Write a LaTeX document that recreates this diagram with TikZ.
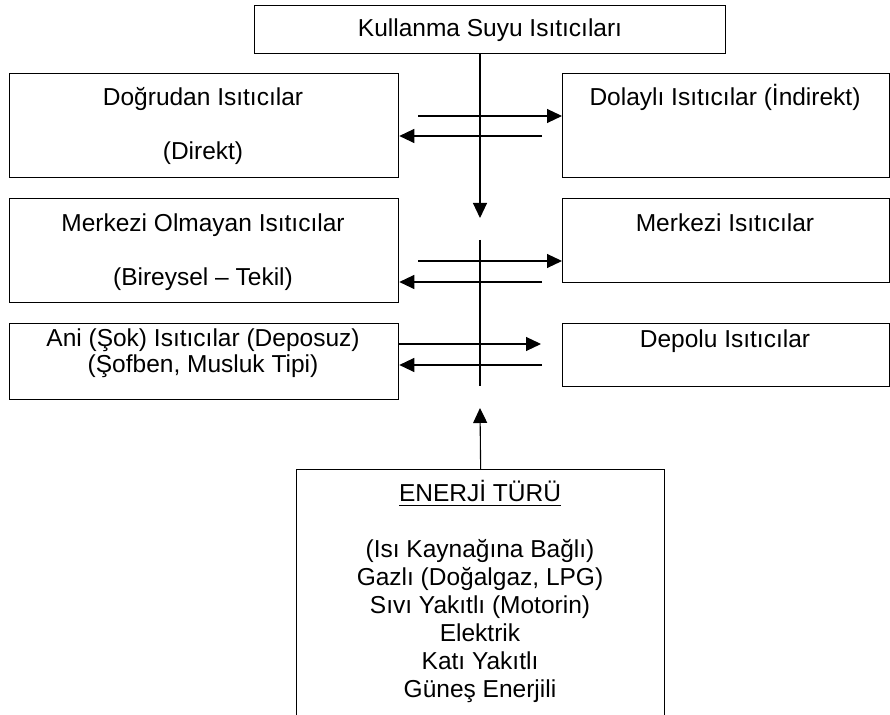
\documentclass[tikz,border=0pt]{standalone}
\usepackage{fontspec}
\setmainfont{Liberation Sans}
\usetikzlibrary{arrows.meta}

\begin{document}
\begin{tikzpicture}[x=0.5pt,y=-0.5pt,
  kutu/.style={draw,line width=0.65pt,anchor=north west,inner sep=0pt},
  yazi/.style={anchor=base,inner sep=0pt,font=\fontsize{12.25}{14}\selectfont},
  ok/.style={line width=0.55pt,-{Triangle[length=7.5pt,width=7pt]}}]
\useasboundingbox (0,0) rectangle (890,715);
\clip (0,0) rectangle (890,715);

% Boxes
\node[kutu,minimum width=235.5pt,minimum height=24pt] (kullanma) at (254,5) {};
\node[kutu,minimum width=194.5pt,minimum height=52pt] (dogrudan) at (9,73) {};
\node[kutu,minimum width=163.5pt,minimum height=52pt] (dolayli) at (562,73) {};
\node[kutu,minimum width=194.5pt,minimum height=52pt] (bireysel) at (9,198) {};
\node[kutu,minimum width=163.5pt,minimum height=42pt] (merkezi) at (562,198) {};
\node[kutu,minimum width=194.5pt,minimum height=38pt] (ani) at (9,323) {};
\node[kutu,minimum width=163.5pt,minimum height=31.5pt] (depolu) at (562,323) {};
\node[kutu,minimum width=184pt,minimum height=130pt] (enerji) at (296,469) {};

% Texts
\node[yazi] (t-kullanma) at (490,37) {Kullanma Suyu Isıtıcıları};
\node[yazi] (t-dogrudan) at (203,106) {Doğrudan Isıtıcılar};
\node[yazi] (t-direkt) at (203,160) {(Direkt)};
\node[yazi] (t-dolayli) at (725,106) {Dolaylı Isıtıcılar (İndirekt)};
\node[yazi] (t-merkezsiz) at (203,232) {Merkezi Olmayan Isıtıcılar};
\node[yazi] (t-bireysel) at (203,286) {(Bireysel – Tekil)};
\node[yazi] (t-merkezi) at (725,232) {Merkezi Isıtıcılar};
\node[yazi] (t-ani) at (203,347) {Ani (Şok) Isıtıcılar (Deposuz)};
\node[yazi] (t-sofben) at (203,373) {(Şofben, Musluk Tipi)};
\node[yazi] (t-depolu) at (725,348) {Depolu Isıtıcılar};
\node[yazi] (t-enerji) at (480,502) {\underline{ENERJİ TÜRÜ}};
\node[yazi] (t-kaynak) at (480,558) {(Isı Kaynağına Bağlı)};
\node[yazi] (t-gazli) at (480,586) {Gazlı (Doğalgaz, LPG)};
\node[yazi] (t-sivi) at (480,614) {Sıvı Yakıtlı (Motorin)};
\node[yazi] (t-elektrik) at (480,642) {Elektrik};
\node[yazi] (t-kati) at (480,670) {Katı Yakıtlı};
\node[yazi] (t-gunes) at (480,698) {Güneş Enerjili};

% Free ends
\coordinate (asagi) at (480,218);
\coordinate (dik1) at (480,240);
\coordinate (dik2) at (480,386);
\coordinate (yukari) at (480,408);
\coordinate (s1) at (418,116);
\coordinate (s2) at (542,136);
\coordinate (s3) at (418,261);
\coordinate (s4) at (542,282);
\coordinate (s5) at (541,344);
\coordinate (s6) at (542,365);

% Connectors
\draw[ok] (kullanma.south -| asagi) -- (asagi);
\draw[line width=0.55pt] (dik1) -- (dik2);
\draw[ok] (enerji.north) -- (yukari);
\draw[ok] (s1) -- (dolayli.west |- s1);
\draw[ok] (s2) -- (dogrudan.east |- s2);
\draw[ok] (s3) -- (merkezi.west |- s3);
\draw[ok] (s4) -- (bireysel.east |- s4);
\draw[ok] (ani.east |- s5) -- (s5);
\draw[ok] (s6) -- (ani.east |- s6);
\end{tikzpicture}
\end{document}
